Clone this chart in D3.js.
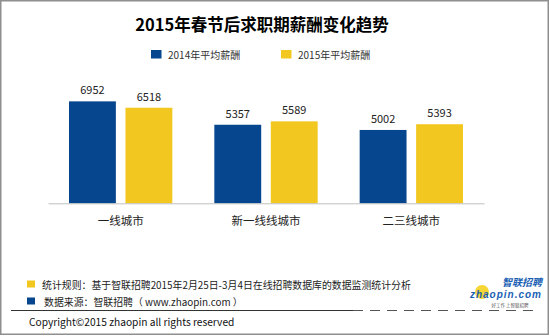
<!DOCTYPE html>
<html><head><meta charset="utf-8">
<script src="https://cdn.jsdelivr.net/npm/d3@7"></script>
<style>
html,body{margin:0;padding:0;background:#fff;}
svg{display:block;font-family:"Noto Sans CJK SC","Noto Sans",sans-serif;}
</style></head>
<body>
<svg id="chart" width="550" height="336"></svg>
<script>
const title = "2015年春节后求职期薪酬变化趋势";
const categories = ["一线城市", "新一线线城市", "二三线城市"];
const seriesNames = ["2014年平均薪酬", "2015年平均薪酬"];
const values2014 = [6952, 5357, 5002];
const values2015 = [6518, 5589, 5393];
const colors = ["#05468f", "#f2c71f"];
const noteLines = ["统计规则：基于智联招聘2015年2月25日-3月4日在线招聘数据库的数据监测统计分析",
                   "数据来源：智联招聘（ www.zhaopin.com ）"];
const copyright = "Copyright©2015 zhaopin all rights reserved";

const svg = d3.select("#chart");
const seriesValues = [values2014, values2015];

// frame
svg.append("rect").attr("x",0.75).attr("y",0.75).attr("width",547.5).attr("height",333.5)
  .attr("fill","#fff").attr("stroke","#8f8f8f").attr("stroke-width",1.5);

// title
svg.append("text").attr("x",262).attr("y",31).attr("text-anchor","middle")
  .attr("font-size",16.5).attr("font-weight","bold").attr("fill","#000").text(title);

// legend
const legendX = [151, 281];
seriesNames.forEach((s,i)=>{
  svg.append("rect").attr("x",legendX[i]).attr("y",50).attr("width",10.5).attr("height",8.5).attr("fill",colors[i]);
  svg.append("text").attr("x",legendX[i]+17).attr("y",58.5).attr("font-size",10).attr("fill","#333").text(s);
});

// scales
const x0 = d3.scaleBand().domain(categories).range([48,484]).paddingInner(0).paddingOuter(0);
const x1 = d3.scaleBand().domain(seriesNames).range([21, x0.bandwidth()-21]).paddingInner(0.17).paddingOuter(0);
const y = d3.scaleLinear().domain([0,8000]).range([203.3, 86]);

const g = svg.append("g");
categories.forEach((c,ci)=>{
  seriesNames.forEach((s,si)=>{
    const v = seriesValues[si][ci];
    const bx = x0(c)+x1(s);
    g.append("rect").attr("x",bx).attr("y",y(v)).attr("width",x1.bandwidth())
      .attr("height",y(0)-y(v)).attr("fill",colors[si]);
    g.append("text").attr("x",bx+x1.bandwidth()/2).attr("y",y(v)-7)
      .attr("text-anchor","middle").attr("font-size",11).attr("fill","#222").text(v);
  });
});

// axis
const axis = d3.axisBottom(x0).tickSize(0).tickPadding(14);
const ax = svg.append("g").attr("transform",`translate(0,${y(0)})`).call(axis);
ax.select(".domain").attr("stroke","#bfbfbf").attr("stroke-width",1);
ax.selectAll("text").attr("font-size",11.5).attr("fill","#222")
  .attr("font-family","'Noto Sans CJK SC',sans-serif");

// footer notes
const noteY = [280.5, 297.5];
const noteColors = [colors[1], colors[0]];
noteLines.forEach((t,i)=>{
  svg.append("rect").attr("x",27).attr("y",noteY[i]).attr("width",8).attr("height",7).attr("fill",noteColors[i]);
  svg.append("text").attr("x",i===0?42:44).attr("y",noteY[i]+8).attr("font-size",9.9).attr("fill","#222").text(t);
});

// separator line
svg.append("line").attr("x1",11).attr("x2",353).attr("y1",310.5).attr("y2",310.5)
  .attr("stroke","#333").attr("stroke-width",1.2);
svg.append("line").attr("x1",353).attr("x2",540).attr("y1",310.5).attr("y2",310.5)
  .attr("stroke","#555").attr("stroke-width",1.2).attr("stroke-dasharray","10,7");

svg.append("text").attr("x",29).attr("y",326).attr("font-size",10.2).attr("fill","#111").text(copyright);

// logo
const logo = svg.append("g");
logo.append("circle").attr("cx",482).attr("cy",292).attr("r",7).attr("fill","#f5d21e").attr("opacity",0.9);
logo.append("text").attr("x",542).attr("y",285.5).attr("text-anchor","end").attr("font-size",10)
  .attr("font-weight","bold").attr("font-style","italic").attr("fill","#1a5fb4").text("智联招聘");
logo.append("text").attr("x",542).attr("y",298).attr("text-anchor","end").attr("font-size",10)
  .attr("font-family","'Liberation Sans',sans-serif")
  .attr("font-weight","bold").attr("font-style","italic").attr("fill","#1a5fb4").attr("letter-spacing",1).text("zhaopin.com");
logo.append("text").attr("x",510).attr("y",307).attr("text-anchor","middle").attr("font-size",4.5)
  .attr("fill","#555").text("好工作 上智联招聘");
</script>
</body></html>
